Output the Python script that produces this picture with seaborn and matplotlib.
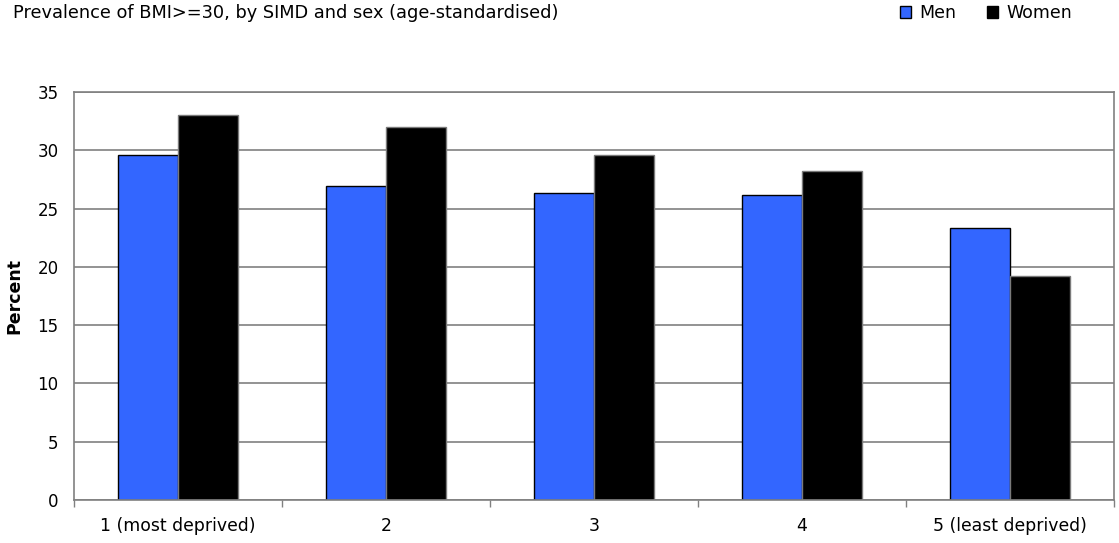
import matplotlib
matplotlib.use("Agg")
import matplotlib.pyplot as plt
from matplotlib.patches import Patch
from matplotlib.ticker import FixedLocator
import seaborn as sns
import pandas as pd

categories = ["1 (most deprived)", "2", "3", "4", "5 (least deprived)"]
men = [29.6, 26.9, 26.3, 26.2, 23.3]
women = [33.0, 32.0, 29.6, 28.2, 19.2]
series = ["Men", "Women"]
colors = {"Men": "#3366FF", "Women": "#000000"}

df = pd.DataFrame({
    "SIMD": categories * 2,
    "Sex": ["Men"] * len(men) + ["Women"] * len(women),
    "Percent": men + women,
})

sns.set_theme(style="white")
plt.rcParams["font.family"] = ["DejaVu Sans"]
plt.rcParams["text.color"] = "black"
plt.rcParams["xtick.color"] = "black"
plt.rcParams["ytick.color"] = "black"
plt.rcParams["axes.labelcolor"] = "black"

fig = plt.figure(figsize=(11.19, 5.43), dpi=100)
ax = fig.add_axes([74 / 1119, 43 / 543, 1040 / 1119, 408 / 543])

sns.barplot(data=df, x="SIMD", y="Percent", hue="Sex", order=categories,
            hue_order=series, palette=colors, width=0.58, ax=ax,
            legend=False, errorbar=None, saturation=1)

for bar, sex in zip(ax.patches, ["Men"] * 5 + ["Women"] * 5):
    bar.set_edgecolor("#000000" if sex == "Men" else "#7a7a7a")
    bar.set_linewidth(1.0)

ax.set_xlim(-0.5, len(categories) - 0.5)
ax.set_ylim(0, 35)
ax.set_yticks(range(0, 36, 5))
ax.yaxis.grid(True, color="#808080", linewidth=1.2)
ax.set_axisbelow(True)

ax.set_xlabel("")
ax.set_ylabel("Percent", fontsize=12.5, fontweight="bold", labelpad=10)
ax.tick_params(axis="x", which="major", length=0, pad=12, labelsize=12.4)
ax.xaxis.set_minor_locator(FixedLocator([i - 0.5 for i in range(len(categories) + 1)]))
ax.tick_params(axis="x", which="minor", length=5, color="#808080", width=1, direction="out")
ax.tick_params(axis="y", length=0, labelsize=12, pad=11)
ax.tick_params(axis="x", bottom=True, which="both")

for side in ["left", "right", "top", "bottom"]:
    ax.spines[side].set_color("#808080")
    ax.spines[side].set_linewidth(1.2)

fig.text(13 / 1119, 1 - 13 / 543, "Prevalence of BMI>=30, by SIMD and sex (age-standardised)",
         fontsize=12.8, va="center", ha="left")

handles = [Patch(facecolor=colors[s], edgecolor="#000000", linewidth=1.0, label=s) for s in series]
fig.legend(handles=handles, loc="center right", bbox_to_anchor=(1072 / 1119, 1 - 13 / 543),
           ncol=2, frameon=False, fontsize=12.5, handlelength=0.65, handleheight=0.65,
           handletextpad=0.45, columnspacing=1.8, borderaxespad=0, borderpad=0)

fig.savefig("out.png", dpi=100, facecolor="white")
